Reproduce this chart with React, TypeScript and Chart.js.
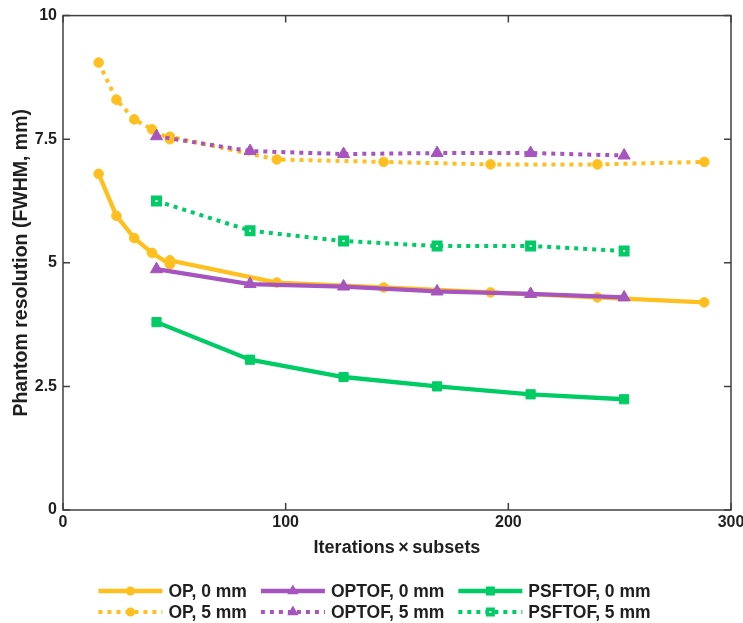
import React, { useEffect, useRef } from 'react';
import { Chart, registerables } from 'chart.js';

Chart.register(...registerables);

// ---- data ----
const OP_X = [16, 24, 32, 40, 48, 48, 96, 144, 192, 240, 288];
const OP_0MM = [6.8, 5.95, 5.5, 5.2, 4.97, 5.05, 4.6, 4.5, 4.4, 4.3, 4.2];
const OP_5MM = [9.05, 8.3, 7.9, 7.7, 7.5, 7.55, 7.09, 7.04, 6.99, 6.99, 7.04];
const TOF_X = [42, 84, 126, 168, 210, 252];
const OPTOF_0MM = [4.87, 4.57, 4.52, 4.42, 4.37, 4.3];
const OPTOF_5MM = [7.56, 7.26, 7.2, 7.22, 7.22, 7.17];
const PSFTOF_0MM = [3.8, 3.04, 2.69, 2.5, 2.34, 2.24];
const PSFTOF_5MM = [6.25, 5.65, 5.44, 5.34, 5.34, 5.24];

const X_TICKS = [0, 100, 200, 300];
const X_TICK_LABELS = ['0', '100', '200', '300'];
const Y_TICKS = [0, 2.5, 5, 7.5, 10];
const Y_TICK_LABELS = ['0', '2.5', '5', '7.5', '10'];

const SERIES_LABELS = ['OP, 0 mm', 'OPTOF, 0 mm', 'PSFTOF, 0 mm', 'OP, 5 mm', 'OPTOF, 5 mm', 'PSFTOF, 5 mm'];
const X_TITLE = 'Iterations\u2009\u00d7\u2009subsets';
const Y_TITLE = 'Phantom resolution (FWHM, mm)';

// ---- styles ----
const YELLOW = '#FFBF1F';
const PURPLE = '#A654BE';
const GREEN = '#00CC66';
const TEXT = '#1f1f1f';
const FRAME = '#404040';
const FONT = '"Liberation Sans", Arial, Helvetica, sans-serif';

type Marker = 'circle' | 'triangle' | 'rect' | 'rectHollow';

function makeDataset(label: string, xs: number[], ys: number[], color: string, dotted: boolean, marker: Marker, order: number) {
  const hollow = marker === 'rectHollow';
  const radius = marker === 'circle' ? 4.8 : marker === 'triangle' ? 7 : hollow ? 4.6 : 6.5;
  return {
    label,
    data: xs.map((x, i) => ({ x, y: ys[i] })),
    borderColor: color,
    backgroundColor: color,
    borderWidth: dotted ? 4 : 4.3,
    borderDash: dotted ? [4, 5] : [],
    borderCapStyle: 'butt' as const,
    tension: 0,
    pointStyle: hollow ? 'rect' : marker,
    pointRadius: radius,
    pointHoverRadius: radius,
    pointBackgroundColor: hollow ? '#ffffff' : color,
    pointBorderColor: color,
    pointBorderWidth: hollow ? 4.5 : 1,
    order,
    _marker: marker,
  } as any;
}

function drawMarker(ctx: CanvasRenderingContext2D, marker: Marker, x: number, y: number, color: string) {
  ctx.save();
  ctx.setLineDash([]);
  ctx.fillStyle = color;
  ctx.strokeStyle = color;
  if (marker === 'circle') {
    ctx.beginPath();
    ctx.arc(x, y, 4.5, 0, Math.PI * 2);
    ctx.fill();
  } else if (marker === 'triangle') {
    const r = 6.5;
    ctx.beginPath();
    ctx.moveTo(x, y - r);
    ctx.lineTo(x + r * 0.866, y + r * 0.5);
    ctx.lineTo(x - r * 0.866, y + r * 0.5);
    ctx.closePath();
    ctx.fill();
  } else if (marker === 'rect') {
    ctx.fillRect(x - 4.5, y - 4.5, 9, 9);
  } else {
    ctx.fillRect(x - 4.5, y - 4.5, 9, 9);
    ctx.fillStyle = '#ffffff';
    ctx.fillRect(x - 1, y - 1, 2, 2);
  }
  ctx.restore();
}

const framePlugin = {
  id: 'frameTicks',
  afterDatasetsDraw(chart: any) {
    const { ctx, chartArea, scales } = chart;
    const { left, right, top, bottom } = chartArea;
    ctx.save();
    ctx.strokeStyle = FRAME;
    ctx.lineWidth = 1.5;
    ctx.setLineDash([]);
    ctx.strokeRect(left, top, right - left, bottom - top);
    const len = 7;
    ctx.beginPath();
    scales.x.ticks.forEach((t: any) => {
      const px = scales.x.getPixelForValue(t.value);
      ctx.moveTo(px, bottom);
      ctx.lineTo(px, bottom - len);
      ctx.moveTo(px, top);
      ctx.lineTo(px, top + len);
    });
    scales.y.ticks.forEach((t: any) => {
      const py = scales.y.getPixelForValue(t.value);
      ctx.moveTo(left, py);
      ctx.lineTo(left + len, py);
      ctx.moveTo(right, py);
      ctx.lineTo(right - len, py);
    });
    ctx.stroke();
    ctx.restore();
  },
};

const legendPlugin = {
  id: 'lineMarkerLegend',
  afterDraw(chart: any) {
    const { ctx, chartArea } = chart;
    const datasets = chart.data.datasets;
    const SAMPLE = 64;
    const GAP = 6;
    const COLGAP = 14;
    ctx.save();
    ctx.font = `bold 17.5px ${FONT}`;
    const colW = [0, 0, 0];
    datasets.forEach((d: any, i: number) => {
      const c = i % 3;
      colW[c] = Math.max(colW[c], SAMPLE + GAP + ctx.measureText(d.label).width);
    });
    const total = colW[0] + colW[1] + colW[2] + COLGAP * 2;
    const x0 = (chart.width - total) / 2 + 3;
    const rowY = [chartArea.bottom + 81, chartArea.bottom + 102];
    datasets.forEach((d: any, i: number) => {
      const c = i % 3;
      const r = Math.floor(i / 3);
      let x = x0;
      for (let k = 0; k < c; k++) x += colW[k] + COLGAP;
      const y = rowY[r];
      ctx.save();
      ctx.strokeStyle = d.borderColor;
      ctx.lineWidth = d.borderWidth;
      ctx.lineCap = 'butt';
      ctx.setLineDash(d.borderDash || []);
      ctx.beginPath();
      ctx.moveTo(x, y);
      ctx.lineTo(x + SAMPLE, y);
      ctx.stroke();
      ctx.restore();
      drawMarker(ctx, d._marker, x + SAMPLE / 2, y, d.borderColor);
      ctx.fillStyle = TEXT;
      ctx.textAlign = 'left';
      ctx.textBaseline = 'middle';
      ctx.fillText(d.label, x + SAMPLE + GAP, y + 1);
    });
    ctx.restore();
  },
};

export default function App() {
  const canvasRef = useRef<HTMLCanvasElement | null>(null);

  useEffect(() => {
    if (!canvasRef.current) return;
    const datasets = [
      makeDataset(SERIES_LABELS[0], OP_X, OP_0MM, YELLOW, false, 'circle', 3),
      makeDataset(SERIES_LABELS[1], TOF_X, OPTOF_0MM, PURPLE, false, 'triangle', 1),
      makeDataset(SERIES_LABELS[2], TOF_X, PSFTOF_0MM, GREEN, false, 'rect', 0),
      makeDataset(SERIES_LABELS[3], OP_X, OP_5MM, YELLOW, true, 'circle', 4),
      makeDataset(SERIES_LABELS[4], TOF_X, OPTOF_5MM, PURPLE, true, 'triangle', 2),
      makeDataset(SERIES_LABELS[5], TOF_X, PSFTOF_5MM, GREEN, true, 'rectHollow', 0),
    ];
    const chart = new Chart(canvasRef.current, {
      type: 'line',
      data: { datasets },
      options: {
        animation: false,
        responsive: true,
        maintainAspectRatio: false,
        devicePixelRatio: 1,
        layout: { padding: { top: 14, right: 12, bottom: 63, left: 0 } },
        plugins: {
          legend: { display: false },
          tooltip: { enabled: false },
        },
        scales: {
          x: {
            type: 'linear',
            min: 0,
            max: 300,
            afterBuildTicks: (scale: any) => {
              scale.ticks = X_TICKS.map((v) => ({ value: v }));
            },
            afterFit: (scale: any) => {
              scale.height = 50;
              scale.paddingRight = 0;
              scale.paddingLeft = 0;
            },
            grid: { display: false, drawTicks: false },
            border: { display: false },
            ticks: {
              padding: 3,
              maxRotation: 0,
              autoSkip: false,
              color: TEXT,
              font: { family: FONT, size: 16, weight: 'bold' },
              callback: (_v: any, i: number) => X_TICK_LABELS[i],
            },
            title: {
              display: true,
              text: X_TITLE,
              color: TEXT,
              font: { family: FONT, size: 18, weight: 'bold' },
              padding: { top: 0, bottom: 1 },
            },
          },
          y: {
            type: 'linear',
            min: 0,
            max: 10,
            afterBuildTicks: (scale: any) => {
              scale.ticks = Y_TICKS.map((v) => ({ value: v }));
            },
            afterFit: (scale: any) => {
              scale.width = 63;
            },
            grid: { display: false, drawTicks: false },
            border: { display: false },
            ticks: {
              padding: 6,
              autoSkip: false,
              color: TEXT,
              font: { family: FONT, size: 16, weight: 'bold' },
              callback: (_v: any, i: number) => Y_TICK_LABELS[i],
            },
            title: {
              display: true,
              text: Y_TITLE,
              color: TEXT,
              font: { family: FONT, size: 19.5, weight: 'bold' },
              padding: { top: 10, bottom: 0 },
            },
          },
        },
      } as any,
      plugins: [framePlugin, legendPlugin],
    });
    return () => chart.destroy();
  }, []);

  return (
    <div style={{ position: 'fixed', left: 0, top: 0, width: 743, height: 623, background: '#ffffff' }}>
      <canvas ref={canvasRef} />
    </div>
  );
}
